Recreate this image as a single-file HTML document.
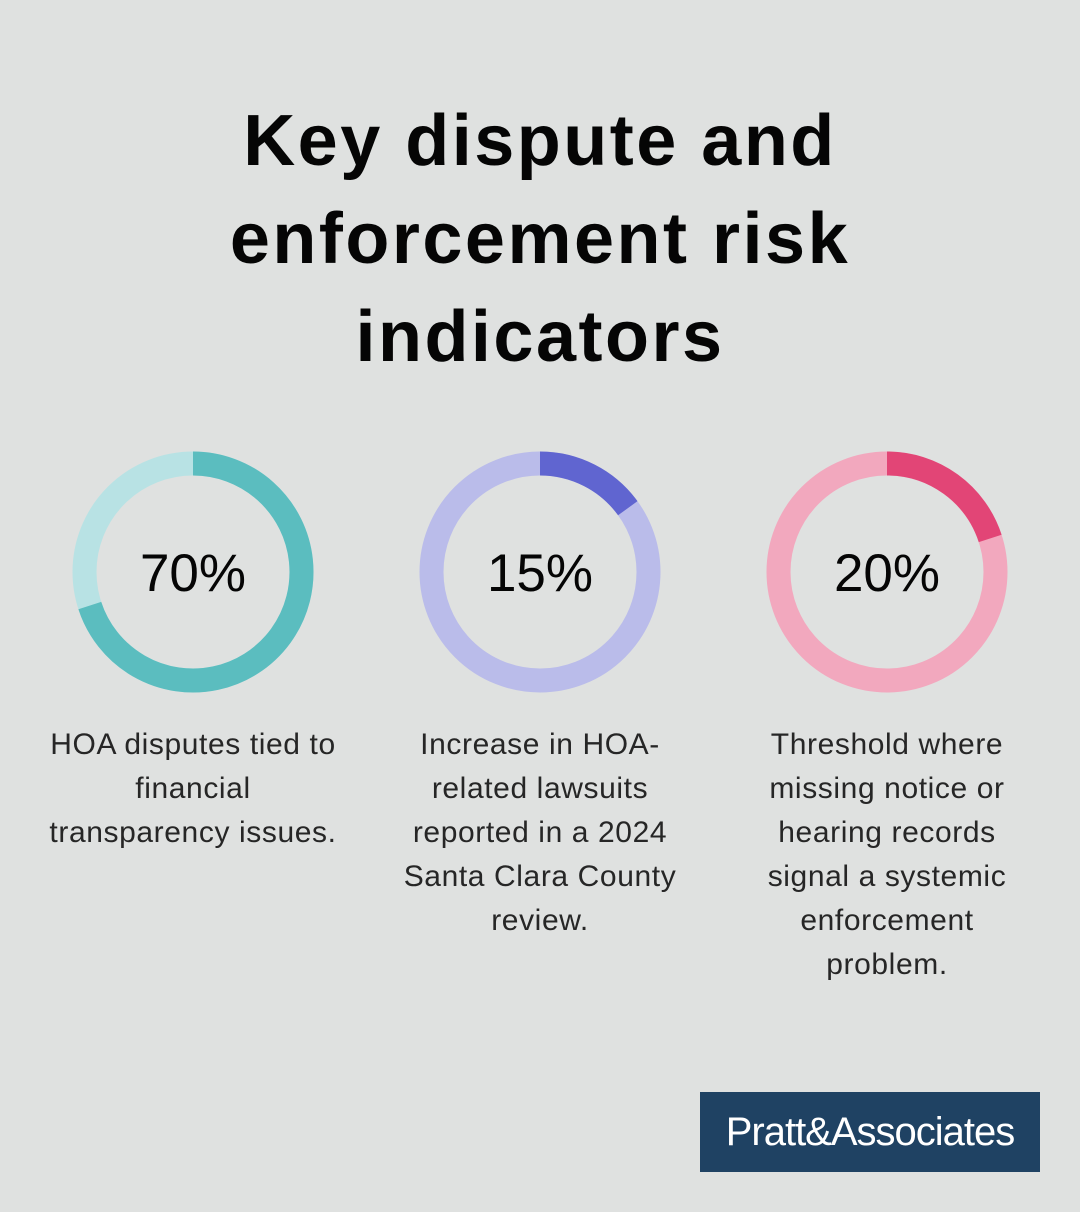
<!DOCTYPE html>
<html><head><meta charset="utf-8"><style>
body{margin:0;width:1080px;height:1212px;background:#dfe1e0;font-family:"Liberation Sans",sans-serif;position:relative;overflow:hidden}
h1{position:absolute;top:92px;left:0;width:1080px;margin:0;text-align:center;font-size:72px;line-height:98px;font-weight:bold;color:#050505;letter-spacing:2.5px}
.cap{position:absolute;top:723px;width:340px;text-align:center;font-size:30px;line-height:44px;color:#262626;white-space:nowrap;letter-spacing:0.6px}
#logo{position:absolute;left:700px;top:1092px;width:340px;height:80px;background:#1f4263;color:#fff;font-size:40px;line-height:80px;text-align:center;letter-spacing:-1px}
</style></head><body>
<h1>Key dispute and<br>enforcement risk<br>indicators</h1>
<svg id="chart" width="1080" height="720" style="position:absolute;left:0;top:0"></svg>
<div class="cap" style="left:23px">HOA disputes tied to<br>financial<br>transparency issues.</div>
<div class="cap" style="left:370px">Increase in HOA-<br>related lawsuits<br>reported in a 2024<br>Santa Clara County<br>review.</div>
<div class="cap" style="left:717px">Threshold where<br>missing notice or<br>hearing records<br>signal a systemic<br>enforcement<br>problem.</div>
<div id="logo">Pratt&amp;Associates</div>
<script>
const labels=["70%","15%","20%"];
const values=[70,15,20];
const fgColors=["#5bbdbf","#6065d0","#e24576"];
const bgColors=["#b8e2e4","#babcea","#f2a8be"];
const centersX=[193,540,887];
const cy=572,r=108.5,w=24;
const svg=document.getElementById('chart');
const NS="http://www.w3.org/2000/svg";
function pt(a){return [Math.sin(a)*r,-Math.cos(a)*r];}
values.forEach((v,i)=>{
  const cx=centersX[i];
  const bg=document.createElementNS(NS,'circle');
  
  
  bg.setAttribute('cx',cx);bg.setAttribute('cy',cy);bg.setAttribute('r',r);
  bg.setAttribute('fill','none');bg.setAttribute('stroke',bgColors[i]);bg.setAttribute('stroke-width',w);
  svg.appendChild(bg);
  const a=v/100*2*Math.PI;const p=pt(a);
  const arc=document.createElementNS(NS,'path');
  
  
  arc.setAttribute('d',`M${cx} ${cy-r} A${r} ${r} 0 ${v>50?1:0} 1 ${cx+p[0]} ${cy+p[1]}`);
  arc.setAttribute('fill','none');arc.setAttribute('stroke',fgColors[i]);arc.setAttribute('stroke-width',w);
  svg.appendChild(arc);
  const t=document.createElementNS(NS,'text');
  
  
  t.setAttribute('x',cx);t.setAttribute('y',cy+19);t.setAttribute('text-anchor','middle');
  t.setAttribute('font-size','53');t.setAttribute('fill','#050505');
  t.setAttribute('font-family','Liberation Sans, sans-serif');
  t.textContent=labels[i];
  svg.appendChild(t);
});
</script>
</body></html>
